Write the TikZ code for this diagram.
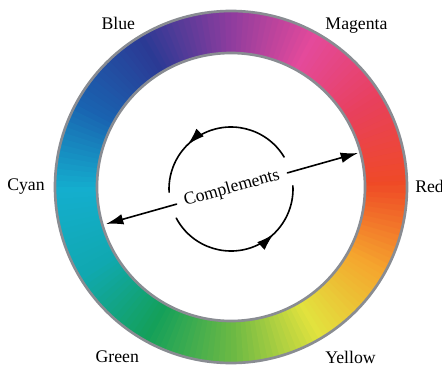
\documentclass[tikz,border=0pt]{standalone}
\usepackage{fontspec}
\setmainfont{Liberation Serif}
\usetikzlibrary{arrows.meta,decorations.markings}
\definecolor{wheel0}{HTML}{EF4A26}
\definecolor{wheel1}{HTML}{E8405C}
\definecolor{wheel2}{HTML}{E44A9B}
\definecolor{wheel3}{HTML}{8C3C9E}
\definecolor{wheel4}{HTML}{2B3A94}
\definecolor{wheel5}{HTML}{1A62B0}
\definecolor{wheel6}{HTML}{14AECE}
\definecolor{wheel7}{HTML}{10A8B0}
\definecolor{wheel8}{HTML}{14A05A}
\definecolor{wheel9}{HTML}{6CB944}
\definecolor{wheel10}{HTML}{E2E23E}
\definecolor{wheel11}{HTML}{F5A52E}
\definecolor{wheel12}{HTML}{EF4A26}
\definecolor{rimgray}{RGB}{137,140,146}
\tikzset{
  rim/.style={draw=rimgray, line width=2pt},
  lbl/.style={inner sep=0pt, anchor=base},
  turn/.style={line width=1.2pt, postaction={decorate},
    decoration={markings, mark=at position 0.68 with {\arrow{Latex[length=13pt,width=8pt]}}}}
}
\begin{document}
\begin{tikzpicture}[x=0.75pt, y=0.75pt, line cap=round, line join=round, >={Latex[length=13pt,width=8pt]}, font=\fontsize{13.3}{16}\selectfont]
	\useasboundingbox (0,0) rectangle (442,365);
	\pgfmathsetmacro{\ro}{176}
	\pgfmathsetmacro{\ri}{134}
	\coordinate (O) at (231,178);
	\begin{scope}[shift={(O)}]
		\foreach \a in {0,2,...,358} {
			\pgfmathtruncatemacro{\k}{int(\a/30)}
			\pgfmathtruncatemacro{\kk}{\k+1}
			\pgfmathtruncatemacro{\p}{100-(\a-30*\k)*10/3}
			\fill[wheel\k!\p!wheel\kk] (\a:\ro) arc[start angle=\a, end angle=\a+2.6, radius=\ro] -- ({\a+2.6}:\ri) arc[start angle=\a+2.6, end angle=\a, radius=\ri] -- cycle;
		}
	\end{scope}
	\draw[rim] (O) circle[radius=\ro];
	\draw[rim] (O) circle[radius=\ri];
	\node[lbl] (blue) at (118.3,335.5) {Blue};
	\node[lbl] (magenta) at (356.5,335.2) {Magenta};
	\node[lbl] (cyan) at (26,174.3) {Cyan};
	\node[lbl, anchor=base west] (red) at (415,172.3) {Red};
	\node[lbl] (green) at (117.3,2.3) {Green};
	\node[lbl] (yellow) at (350.5,1.8) {Yellow};
	\node[rotate=15.7, inner sep=6pt] (comp) at (232,176.5) {Complements};
	\coordinate (rtip) at (358,212);
	\coordinate (ltip) at (106,141);
	\draw[->, line width=1.2pt] (comp) -- (rtip);
	\draw[->, line width=1.2pt] (comp) -- (ltip);
	\coordinate (M) at (231,176);
	\draw[turn] (M) ++(31:62) arc[start angle=31, end angle=183, radius=62];
	\draw[turn] (M) ++(208:62) arc[start angle=208, end angle=363, radius=62];
\end{tikzpicture}
\end{document}
